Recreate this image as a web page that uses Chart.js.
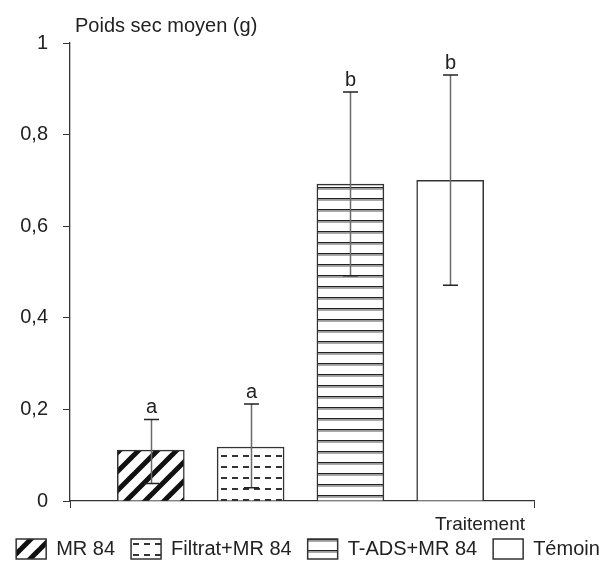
<!DOCTYPE html>
<html><head><meta charset="utf-8">
<script src="https://cdn.jsdelivr.net/npm/chart.js"></script>
<style>html,body{margin:0;padding:0;background:#fff;overflow:hidden}#wrap{width:616px;height:562px;position:relative}</style>
</head><body><div id="wrap"><canvas id="c" width="616" height="562"></canvas></div>
<script>
const categories = ['MR 84', 'Filtrat+MR 84', 'T-ADS+MR 84', 'Témoin'];
const positions = [1, 2, 3, 4];
const means = [0.111, 0.118, 0.692, 0.700];
const errUpper = [0.178, 0.212, 0.893, 0.930];
const errLower = [0.038, 0.029, 0.492, 0.471];
const letters = ['a', 'a', 'b', 'b'];
const yTickLabels = ['0', '0,2', '0,4', '0,6', '0,8', '1'];
const yTitle = 'Poids sec moyen (g)';
const xTitle = 'Traitement';

const FONT = '"Liberation Sans", Arial, Helvetica, sans-serif';
Chart.defaults.font.family = FONT;
Chart.defaults.color = '#222';

const canvas = document.getElementById('c');
const mainCtx = canvas.getContext('2d');

function makePattern(kind) {
  const c = document.createElement('canvas');
  const g = c.getContext('2d');
  if (kind === 'diag') {
    const s = 19;
    c.width = s; c.height = s;
    g.fillStyle = '#fff'; g.fillRect(0, 0, s, s);
    g.strokeStyle = '#111'; g.lineWidth = 5;
    for (const o of [-s, 0, s]) {
      g.beginPath(); g.moveTo(o - 2, s + 2); g.lineTo(o + s + 2, -2); g.stroke();
    }
  } else if (kind === 'dash') {
    c.width = 11; c.height = 11;
    g.fillStyle = '#fff'; g.fillRect(0, 0, 11, 11);
    g.fillStyle = '#333'; g.fillRect(1, 4, 6, 2);
  } else if (kind === 'hline') {
    c.width = 4; c.height = 11;
    g.fillStyle = '#fff'; g.fillRect(0, 0, 4, 11);
    g.fillStyle = '#222'; g.fillRect(0, 0, 4, 1.5);
    g.fillStyle = '#aaa'; g.fillRect(0, 1.5, 4, 1.5);
  } else {
    return '#ffffff';
  }
  return mainCtx.createPattern(c, 'repeat');
}
const fills = [makePattern('diag'), makePattern('dash'), makePattern('hline'), makePattern('none')];

const datasets = categories.map((name, i) => ({
  label: name,
  data: [{ x: positions[i], y: means[i] }],
  backgroundColor: fills[i],
  borderColor: '#333',
  borderWidth: 1.5,
  barThickness: 67,
  grouped: false
}));

const extras = {
  id: 'extras',
  afterDatasetsDraw(chart) {
    const ctx = chart.ctx, xs = chart.scales.x, ys = chart.scales.y, area = chart.chartArea;
    ctx.save();
    positions.forEach((p, i) => {
      const px = Math.round(xs.getPixelForValue(p)) + 0.5;
      const top = ys.getPixelForValue(errUpper[i]);
      const bot = ys.getPixelForValue(errLower[i]);
      ctx.strokeStyle = '#6a6a6a'; ctx.lineWidth = 1.5;
      ctx.beginPath(); ctx.moveTo(px, top); ctx.lineTo(px, bot); ctx.stroke();
      ctx.strokeStyle = '#222'; ctx.lineWidth = 1.5;
      ctx.beginPath();
      ctx.moveTo(px - 7.5, top); ctx.lineTo(px + 7.5, top);
      ctx.moveTo(px - 7.5, bot); ctx.lineTo(px + 7.5, bot);
      ctx.stroke();
      ctx.fillStyle = '#222'; ctx.font = '20px ' + FONT;
      ctx.textAlign = 'center'; ctx.textBaseline = 'alphabetic';
      ctx.fillText(letters[i], px, top - 6);
    });
    ctx.font = '20px ' + FONT; ctx.fillStyle = '#222';
    ctx.textAlign = 'left'; ctx.textBaseline = 'alphabetic';
    ctx.fillText(yTitle, area.left + 5, area.top - 11);
    ctx.font = '19px ' + FONT;
    ctx.textAlign = 'right';
    ctx.fillText(xTitle, area.right - 9, area.bottom + 29);
    ctx.restore();
  }
};

new Chart(canvas, {
  type: 'bar',
  data: { datasets },
  options: {
    responsive: false,
    animation: false,
    layout: { padding: { left: 0, right: 0, top: 43, bottom: -7 } },
    plugins: {
      tooltip: { enabled: false },
      legend: {
        position: 'bottom',
        labels: { font: { size: 20, family: FONT }, color: '#222', boxWidth: 30, boxHeight: 20, padding: 16 }
      }
    },
    scales: {
      x: {
        type: 'linear', min: 0.19, max: 4.84, offset: false,
        grid: { display: true, offset: false, drawOnChartArea: false, drawTicks: true, tickLength: 7, color: '#333' },
        border: { display: true, color: '#333', width: 1.3 },
        ticks: { display: false },
        afterBuildTicks: s => { s.ticks = [{ value: s.min }, { value: s.max }]; },
        afterFit: s => { s.height = 22; }
      },
      y: {
        min: 0, max: 1,
        ticks: { stepSize: 0.2, callback: (v, i) => yTickLabels[i], font: { size: 20, family: FONT }, color: '#222', padding: 15 },
        grid: { drawOnChartArea: false, drawTicks: true, tickLength: 7, color: '#333' },
        border: { display: true, color: '#333', width: 1.3 },
        afterFit: s => { s.width = 70; }
      },
      yRight: {
        position: 'right', min: 0, max: 1,
        grid: { display: false, drawTicks: false },
        border: { display: false },
        ticks: { display: false },
        afterFit: s => { s.width = 82; }
      }
    }
  },
  plugins: [extras]
});
</script>
</body></html>
